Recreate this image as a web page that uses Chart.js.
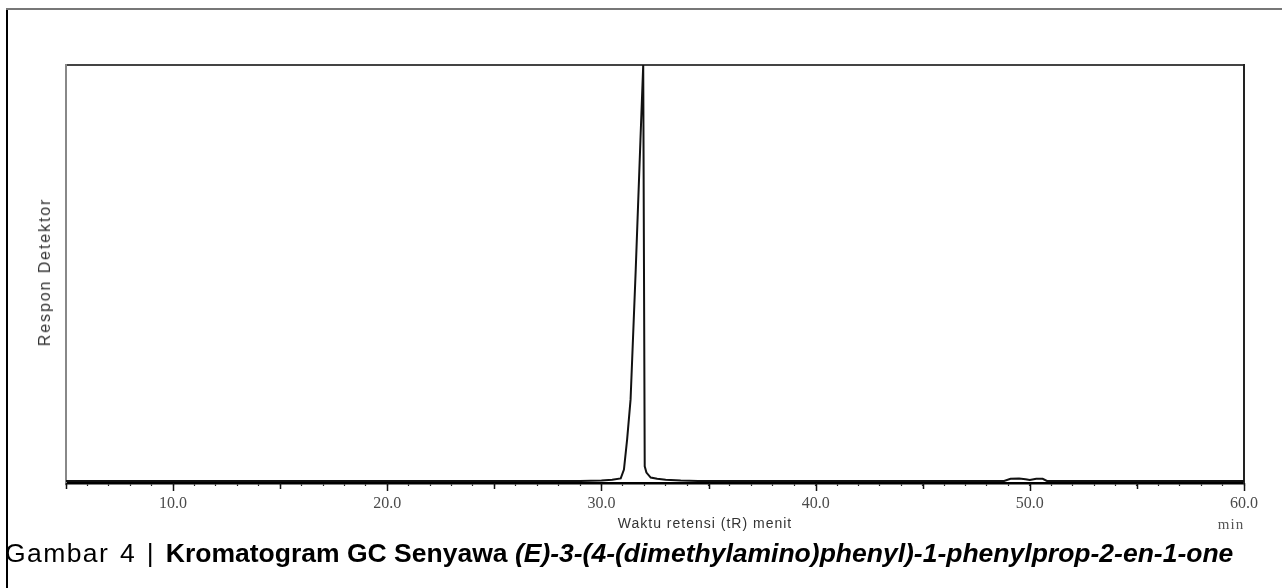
<!DOCTYPE html>
<html>
<head>
<meta charset="utf-8">
<script src="https://cdn.jsdelivr.net/npm/chart.js@4.4.1/dist/chart.umd.min.js"></script>
<style>
  html, body { margin: 0; padding: 0; background: #fff; }
  #wrap { position: relative; width: 1282px; height: 588px; overflow: hidden; }
  #c { position: absolute; left: 0; top: 0; }
  .frameL { position: absolute; left: 6px; top: 8px; width: 2px; height: 580px; background: #000; }
  .frameT { position: absolute; left: 6px; top: 8px; width: 1276px; height: 2px; background: #777; }
  .ylab { position: absolute; left: 45px; top: 272px; transform: translate(-50%, -50%) rotate(-90deg);
          font: 16px "Liberation Sans", Arial, sans-serif; letter-spacing: 1.9px; color: #333; white-space: nowrap; }
  .xlab { position: absolute; left: 705px; top: 523px; transform: translate(-50%, -50%);
          font: 14px "Liberation Sans", Arial, sans-serif; letter-spacing: 1px; color: #333; white-space: nowrap; }
  .unit { position: absolute; left: 1231px; top: 524px; transform: translate(-50%, -50%);
          font: 15px "Liberation Serif", "Times New Roman", serif; letter-spacing: 1px; color: #555; white-space: nowrap; }
  .cap { position: absolute; left: 5px; top: 538px; font: 26.5px/30px "Liberation Sans", Arial, sans-serif; color: #000; white-space: nowrap; }
  .cap .lead { letter-spacing: 1.4px; word-spacing: 2px; }
</style>
</head>
<body>
<div id="wrap">
  <canvas id="c" width="1282" height="588"></canvas>
  <div class="frameL"></div>
  <div class="frameT"></div>
  <div class="ylab">Respon Detektor</div>
  <div class="xlab">Waktu retensi (tR) menit</div>
  <div class="unit">min</div>
  <div class="cap"><span class="lead">Gambar 4 | </span><b>Kromatogram GC Senyawa <i>(E)-3-(4-(dimethylamino)phenyl)-1-phenylprop-2-en-1-one</i></b></div>
</div>
<script>
// Retention time (min) and detector response (% of full scale)
const retentionTime = [5, 8, 12, 16, 20, 24, 27, 29, 30, 30.5, 30.9, 31.05, 31.2, 31.36, 31.6, 31.82, 31.95, 32.02, 32.1, 32.3, 32.6, 33.0, 33.7, 34.5, 38, 42, 46, 48.8, 49.1, 49.5, 49.8, 50.0, 50.3, 50.6, 50.8, 54, 58, 60];
const response      = [0.5, 0.5, 0.5, 0.5, 0.5, 0.5, 0.5, 0.5, 0.6, 0.8, 1.1, 3.2, 10.5, 20, 51, 82, 100, 4, 2.5, 1.3, 1.0, 0.8, 0.6, 0.5, 0.5, 0.5, 0.5, 0.5, 1.0, 1.1, 0.9, 0.7, 1.0, 1.0, 0.5, 0.5, 0.5, 0.5];
const xMin = 5, xMax = 60, xStep = 1;
const majorTicks = [10, 20, 30, 40, 50, 60];

const points = retentionTime.map((t, i) => ({ x: t, y: response[i] }));

const longTicks = {
  id: 'longTicks',
  afterDraw(chart) {
    const s = chart.scales.x, ctx = chart.ctx;
    ctx.save();
    ctx.strokeStyle = '#111';
    ctx.lineWidth = 1.5;
    for (let v = xMin; v <= xMax; v += 5) {
      const px = Math.round(s.getPixelForValue(v)) + 0.5;
      const len = majorTicks.includes(v) ? 8 : 6;
      ctx.beginPath();
      ctx.moveTo(px, s.top);
      ctx.lineTo(px, s.top + len);
      ctx.stroke();
    }
    ctx.restore();
  }
};

new Chart(document.getElementById('c'), {
  type: 'line',
  data: {
    datasets: [{
      data: points,
      borderColor: '#111',
      borderWidth: 2,
      pointRadius: 0,
      tension: 0,
      fill: false
    }]
  },
  options: {
    responsive: false,
    animation: false,
    devicePixelRatio: 1,
    layout: { padding: { top: 65, left: 0, right: 38, bottom: 0 } },
    plugins: { legend: { display: false }, tooltip: { enabled: false } },
    scales: {
      x: {
        type: 'linear', position: 'bottom', min: xMin, max: xMax,
        afterFit(s) { s.height = 105; },
        border: { display: true, color: '#000', width: 2.5 },
        grid: { display: true, drawOnChartArea: false, drawTicks: true, tickLength: 3, tickColor: '#222', tickWidth: 1.2 },
        ticks: {
          stepSize: xStep, autoSkip: false, maxRotation: 0, padding: 8,
          color: '#4a4a4a',
          font: { family: '"Liberation Serif", "Times New Roman", serif', size: 16 },
          callback: (v) => majorTicks.includes(v) ? v.toFixed(1) : ''
        }
      },
      xTop: {
        type: 'linear', position: 'top', min: xMin, max: xMax,
        afterFit(s) { s.height = 0; },
        border: { display: true, color: '#444', width: 2 },
        grid: { display: false },
        ticks: { display: false }
      },
      y: {
        type: 'linear', position: 'left', min: 0, max: 100,
        afterFit(s) { s.width = 66; },
        border: { display: true, color: '#888', width: 2 },
        grid: { display: false },
        ticks: { display: false }
      },
      yRight: {
        type: 'linear', position: 'right', min: 0, max: 100,
        afterFit(s) { s.width = 0; },
        border: { display: true, color: '#222', width: 2 },
        grid: { display: false },
        ticks: { display: false }
      }
    }
  },
  plugins: [longTicks]
});
</script>
</body>
</html>
